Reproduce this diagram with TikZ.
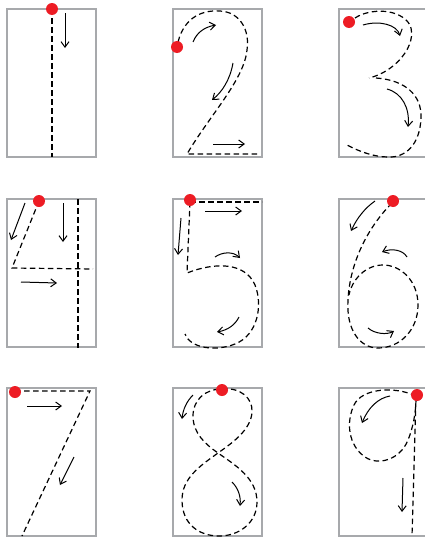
\documentclass[tikz,border=0pt]{standalone}
\usetikzlibrary{arrows.meta}
\definecolor{boxgray}{HTML}{A7A9AC}
\definecolor{dotred}{HTML}{ED1C24}
\tikzset{
 cell/.style={draw=boxgray, line width=2.7pt},
 guide/.style={dash pattern=on 5.5pt off 3.5pt, line width=1.2pt, black},
 dir/.style={-{Straight Barb[length=5.5pt,width=8pt]}, line width=1pt, black},
 startdot/.style={circle, fill=dotred, minimum size=12pt, inner sep=0pt}
}
\begin{document}
\begin{tikzpicture}[x=1pt,y=-1pt]
\useasboundingbox (0,0) rectangle (425,538);
\fill[white] (0,0) rectangle (425,538);
% boxes
\foreach \cx/\cy in {7/9,173/9,339/9,7/199,173/199,339/199,7/388,173/388,339/388}{
  \draw[cell] (\cx,\cy) rectangle ++(89,148);
}
% digit 1
\draw[guide] (52,9) -- (52,157);
\draw[dir] (65,13) -- (65,48);
% digit 2
\draw[guide] (178,42) .. controls (185,15) and (205,10) .. (220,11) .. controls (240,12) and (250,30) .. (247,50) .. controls (244,80) and (210,115) .. (187,154) -- (258,154);
\draw[dir] (193,42) .. controls (197,32) and (205,27) .. (216,25);
\draw[dir] (233,63) .. controls (230,80) and (222,92) .. (212,100);
\draw[dir] (213,144) -- (245,144);
% digit 3
\draw[guide] (355,18) .. controls (370,8) and (400,8) .. (410,25) .. controls (418,45) and (395,72) .. (369,78);
\draw[guide] (376,78) .. controls (405,80) and (422,95) .. (421,118) .. controls (420,145) and (405,158) .. (388,157) .. controls (375,157) and (360,152) .. (347,145);
\draw[dir] (363,25) .. controls (380,20) and (397,25) .. (400,36);
\draw[dir] (387,89) .. controls (402,93) and (410,108) .. (408,127);
% digit 4
\draw[guide] (39,201) -- (12,268) -- (93,269);
\draw[guide] (78,199) -- (78,348);
\draw[dir] (25,203) -- (11,240);
\draw[dir] (63,203) -- (63,242);
\draw[dir] (21,282) -- (57,283);
% digit 5
\draw[guide] (190,202) -- (262,202);
\draw[guide] (190,202) -- (187,273) .. controls (215,262) and (245,262) .. (255,285) .. controls (263,305) and (258,335) .. (235,344) .. controls (215,352) and (190,348) .. (185,334);
\draw[dir] (205,211) -- (242,211);
\draw[dir] (181,218) -- (178,255);
\draw[dir] (215,257) .. controls (222,252) and (233,251) .. (240,258);
\draw[dir] (239,317) .. controls (235,325) and (228,330) .. (217,332);
% digit 6
\draw[guide] (392,203) .. controls (370,225) and (350,260) .. (348,300) .. controls (346,330) and (360,348) .. (378,348) .. controls (400,348) and (418,330) .. (418,305) .. controls (418,280) and (400,265) .. (383,265) .. controls (365,265) and (352,280) .. (349,295);
\draw[dir] (375,201) .. controls (365,208) and (357,218) .. (351,231);
\draw[dir] (407,257) .. controls (403,250) and (392,248) .. (382,252);
\draw[dir] (368,328) .. controls (375,334) and (387,335) .. (394,331);
% digit 7
\draw[guide] (15,391) -- (90,391) -- (22,536);
\draw[dir] (27,406) -- (62,406);
\draw[dir] (74,457) -- (60,485);
% digit 8
\draw[guide] (222,389) .. controls (240,387) and (253,398) .. (252,412) .. controls (251,430) and (232,443) .. (218,453) .. controls (200,466) and (182,478) .. (182,500) .. controls (182,525) and (200,536) .. (219,536) .. controls (240,536) and (257,522) .. (257,502) .. controls (257,478) and (235,465) .. (218,453) .. controls (205,444) and (193,433) .. (193,416) .. controls (193,400) and (205,389) .. (222,389);
\draw[dir] (193,395) .. controls (187,401) and (183,409) .. (182,419);
\draw[dir] (232,482) .. controls (238,488) and (241,496) .. (240,506);
% digit 9
\draw[guide] (416,396) .. controls (395,386) and (362,388) .. (354,405) .. controls (346,422) and (348,445) .. (365,457) .. controls (378,466) and (400,460) .. (408,440) .. controls (413,428) and (416,412) .. (416,398) -- (412,536);
\draw[dir] (390,396) .. controls (378,398) and (368,408) .. (362,423);
\draw[dir] (403,478) -- (402,512);
% start dots
\node[startdot] (s1) at (52,9) {};
\node[startdot] (s2) at (177,47) {};
\node[startdot] (s3) at (349,22) {};
\node[startdot] (s4) at (39,201) {};
\node[startdot] (s5) at (190,200) {};
\node[startdot] (s6) at (393,201) {};
\node[startdot] (s7) at (15,392) {};
\node[startdot] (s8) at (222,390) {};
\node[startdot] (s9) at (417,395) {};
\end{tikzpicture}
\end{document}
